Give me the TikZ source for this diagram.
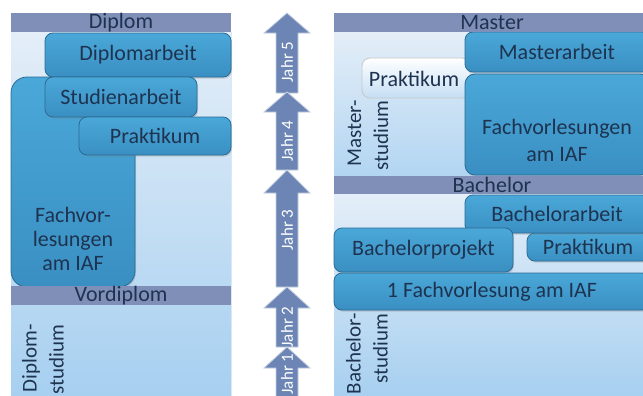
\documentclass[tikz,border=0pt]{standalone}
\usepackage{fontspec}
\setmainfont{Carlito}
\usetikzlibrary{fit,shadows}
\definecolor{barblue}{HTML}{7F8FB8}
\definecolor{boxtop}{HTML}{4AA8D8}
\definecolor{boxbot}{HTML}{3A8FC2}
\definecolor{boxedge}{HTML}{2B6C94}
\definecolor{paneltop}{HTML}{E4EEF8}
\definecolor{panelbot}{HTML}{A6CFF0}
\definecolor{arrowblue}{HTML}{6C85B5}
\definecolor{navy}{HTML}{1E3350}
\begin{document}
\begin{tikzpicture}[x=0.5pt,y=-0.5pt,font=\fontsize{11}{13}\selectfont,
    bar/.style={fill=barblue,inner sep=0pt},
    box/.style={top color=boxtop,bottom color=boxbot,draw=boxedge,rounded corners=4pt,inner sep=0pt,
      drop shadow={opacity=.3,shadow xshift=.5pt,shadow yshift=-.8pt}},
    lightbox/.style={top color=white,bottom color=paneltop!50!panelbot,draw=gray!45,rounded corners=4pt,inner sep=0pt},
    txt/.style={text=navy,inner sep=0pt,align=center},
    vtext/.style={rotate=90,anchor=east,align=right,inner sep=0pt,text=navy,font=\fontsize{10.5}{13.5}\selectfont},
    jahr/.style={rotate=90,text=white,inner sep=0pt,font=\fontsize{8.5}{10}\selectfont}]
  \useasboundingbox (0,0) rectangle (643,396);
  \clip (0,0) rectangle (643,396);
  \fill[white] (0,0) rectangle (643,396);
  \shade[top color=paneltop,bottom color=panelbot] (11,32) rectangle (231,400);
  \shade[top color=paneltop,bottom color=panelbot!80!paneltop] (334,32) rectangle (650,176);
  \shade[top color=paneltop,bottom color=panelbot] (334,194) rectangle (650,400);
  \draw[white!55!panelbot,thin] (231,32) -- (231,400);
  % Diplom
  \node[box,rounded corners=8pt,fit={(11,77) (135,287)}] (fachl) {};
  \node[txt,font=\fontsize{11}{12}\selectfont] (fachlt) at (73,239) {Fachvor-\\lesungen\\am IAF};
  \node[box,fit={(45,33) (231,77)}] (diparb) {};
  \node[txt] (diparbt) at (diparb) {Diplomarbeit};
  \node[box,fit={(45,77) (197,117)}] (studarb) {};
  \node[txt] (studarbt) at (studarb) {Studienarbeit};
  \node[box,fit={(79,117) (231,155)}] (praktl) {};
  \node[txt] (praktlt) at (praktl) {Praktikum};
  \node[vtext] (dipstud) at (43,324) {Diplom-\\studium};
  % Master
  \node[lightbox,fit={(362,58) (470,98)}] (praktm) {};
  \node[txt] (praktmt) at (414,79) {Praktikum};
  \node[box,fit={(465,32) (650,72)}] (masarb) {};
  \node[txt] (masarbt) at (557,52) {Masterarbeit};
  \node[box,rounded corners=5pt,fit={(465,74) (650,175)}] (fachr) {};
  \node[txt,font=\fontsize{11}{13.5}\selectfont] (fachrt) at (557,140) {Fachvorlesungen\\am IAF};
  \node[vtext] (masstud) at (368,100) {Master-\\studium};
  % Bachelor
  \node[box,fit={(527,233) (650,261)}] (praktb) {};
  \node[txt] (praktbt) at (588,247) {Praktikum};
  \node[box,fit={(465,195) (650,233)}] (bacarb) {};
  \node[txt] (bacarbt) at (557,214) {Bachelorarbeit};
  \node[box,fit={(334,228) (513,272)}] (bacproj) {};
  \node[txt] (bacprojt) at (bacproj) {Bachelorprojekt};
  \node[box,fit={(334,273) (650,310)}] (fachb) {};
  \node[txt] (fachbt) at (fachb) {1 Fachvorlesung am IAF};
  \node[vtext] (bacstud) at (367,313) {Bachelor-\\studium};
  % Balken
  \node[bar,fit={(11,13) (231,32)}] (diplom) {};
  \node[txt] (diplomt) at (diplom) {Diplom};
  \node[bar,fit={(11,286) (231,305)}] (vordiplom) {};
  \node[txt] (vordiplomt) at (vordiplom) {Vordiplom};
  \node[bar,fit={(334,13) (650,32)}] (master) {};
  \node[txt] (mastert) at (master) {Master};
  \node[bar,fit={(334,176) (650,194)}] (bachelor) {};
  \node[txt] (bachelort) at (bachelor) {Bachelor};
  % Jahre
  \foreach \t/\b/\e in {13/33/93, 92/112/170, 170/193/287, 287/308/347, 347/368/400}
    \filldraw[fill=arrowblue,draw=white!60!arrowblue,line width=.4pt]
      (276,\e) -- (276,\b) -- (264,\b) -- (287,\t) -- (310,\b) -- (298,\b) -- (298,\e) -- cycle;
  \foreach \n/\l in {1/374, 2/327, 3/230, 4/141, 5/62}
    \node[jahr] (jahr\n) at (287,\l) {Jahr \n};
\end{tikzpicture}
\end{document}
